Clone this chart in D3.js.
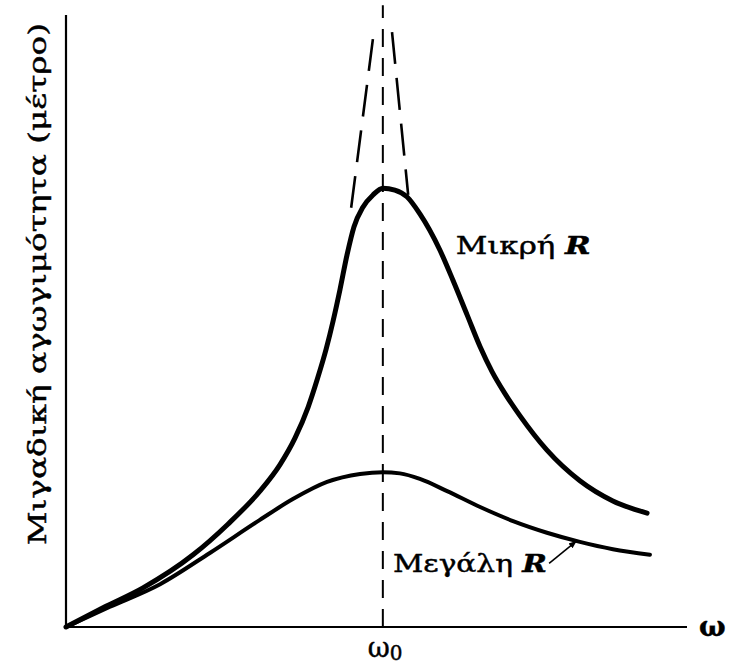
<!DOCTYPE html>
<html>
<head>
<meta charset="utf-8">
<script src="https://cdn.jsdelivr.net/npm/d3@7"></script>
<style>
  body { margin: 0; background: #fff; }
  text { fill: #000; stroke: #000; stroke-width: 0.45px; }
</style>
</head>
<body>
<svg id="chart"></svg>
<script>
// curve readings: [omega / omega0, amplitude] (amplitude 0..1 of the y axis)
const smallR = [
  [0, 0], [0.123, 0.033], [0.243, 0.064], [0.401, 0.118], [0.511, 0.168],
  [0.612, 0.222], [0.675, 0.265], [0.723, 0.309], [0.764, 0.359], [0.795, 0.408],
  [0.821, 0.454], [0.843, 0.500], [0.865, 0.552], [0.887, 0.608], [0.909, 0.654],
  [0.937, 0.686], [0.969, 0.706], [1.0, 0.717], [1.038, 0.714], [1.076, 0.703],
  [1.117, 0.675], [1.180, 0.616], [1.221, 0.567], [1.266, 0.510], [1.307, 0.458],
  [1.345, 0.417], [1.386, 0.381], [1.433, 0.345], [1.518, 0.289], [1.622, 0.239],
  [1.726, 0.206], [1.834, 0.186]
];
const largeR = [
  [0, 0], [0.139, 0.033], [0.297, 0.070], [0.454, 0.121], [0.612, 0.175],
  [0.716, 0.209], [0.824, 0.237], [0.928, 0.250], [1.0, 0.253], [1.054, 0.251],
  [1.117, 0.242], [1.203, 0.222], [1.307, 0.196], [1.411, 0.173], [1.518, 0.154],
  [1.622, 0.139], [1.726, 0.127], [1.843, 0.118]
];
// R -> 0 limit, drawn dashed either side of the peak
const zeroRLeft = [[0.900, 0.685], [0.969, 0.962]];
const zeroRRight = [[1.029, 0.972], [1.080, 0.706]];

const omega0 = 1;
const xLabel = "ω";
const xTickLabel = "ω";
const yLabel = "Μιγαδική αγωγιμότητα (μέτρο)";
const smallRLabel = "Μικρή ";
const largeRLabel = "Μεγάλη ";

const width = 730, height = 666;
const margin = { top: 15, right: 43, bottom: 39, left: 66 };

const svg = d3.select("#chart")
  .attr("width", width)
  .attr("height", height);

const x = d3.scaleLinear()
  .domain([0, 1.96])
  .range([margin.left, width - margin.right]);

const y = d3.scaleLinear()
  .domain([0, 1])
  .range([height - margin.bottom, margin.top]);

const line = d3.line()
  .x(d => x(d[0]))
  .y(d => y(d[1]))
  .curve(d3.curveMonotoneX);

// axes (plain lines, no ticks)
svg.append("line")
  .attr("x1", x(0)).attr("x2", x(0))
  .attr("y1", y(0) + 1).attr("y2", y(1))
  .attr("stroke", "#000").attr("stroke-width", 2.2);

svg.append("line")
  .attr("x1", x(0) - 1).attr("x2", x(1.96))
  .attr("y1", y(0)).attr("y2", y(0))
  .attr("stroke", "#000").attr("stroke-width", 2.2);

// resonance line at omega0
svg.append("line")
  .attr("x1", x(omega0)).attr("x2", x(omega0))
  .attr("y1", y(0)).attr("y2", y(1.016))
  .attr("stroke", "#000").attr("stroke-width", 2)
  .attr("stroke-dasharray", "18,11");

// R -> 0 dashed flanks
[zeroRLeft, zeroRRight].forEach(function(d) {
  svg.append("path")
    .datum(d)
    .attr("d", line)
    .attr("fill", "none")
    .attr("stroke", "#000")
    .attr("stroke-width", 2.6)
    .attr("stroke-dasharray", "32,14");
});

svg.append("path")
  .datum(smallR)
  .attr("d", line)
  .attr("fill", "none")
  .attr("stroke", "#000")
  .attr("stroke-width", 5)
  .attr("stroke-linecap", "round")
  .attr("stroke-linejoin", "round");

svg.append("path")
  .datum(largeR)
  .attr("d", line)
  .attr("fill", "none")
  .attr("stroke", "#000")
  .attr("stroke-width", 4)
  .attr("stroke-linecap", "round")
  .attr("stroke-linejoin", "round");

const serif = "'DejaVu Serif', 'Liberation Serif', serif";

// curve labels
const t1 = svg.append("text")
  .attr("x", x(1.23))
  .attr("y", y(0.609))
  .attr("font-family", serif)
  .attr("font-size", 25)
  .attr("textLength", 135)
  .attr("lengthAdjust", "spacingAndGlyphs");
t1.append("tspan").text(smallRLabel);
t1.append("tspan").attr("font-weight", "bold").attr("font-style", "italic").text("R");

const t2 = svg.append("text")
  .attr("x", x(1.032))
  .attr("y", y(0.090))
  .attr("font-family", serif)
  .attr("font-size", 25)
  .attr("textLength", 154)
  .attr("lengthAdjust", "spacingAndGlyphs");
t2.append("tspan").text(largeRLabel);
t2.append("tspan").attr("font-weight", "bold").attr("font-style", "italic").text("R");

// arrow from label to large R curve
svg.append("defs").append("marker")
  .attr("id", "head")
  .attr("viewBox", "0 0 10 10")
  .attr("refX", 9).attr("refY", 5)
  .attr("markerWidth", 5).attr("markerHeight", 5)
  .attr("orient", "auto")
  .append("path")
  .attr("d", "M0,1 L10,5 L0,9 Z")
  .attr("fill", "#000");

const tip = [1.61, 0.140];
svg.append("line")
  .attr("x1", x(tip[0]) - 27).attr("y1", y(tip[1]) + 22)
  .attr("x2", x(tip[0])).attr("y2", y(tip[1]))
  .attr("stroke", "#000").attr("stroke-width", 1.6)
  .attr("marker-end", "url(#head)");

// axis labels
const w0 = svg.append("text")
  .attr("x", x(omega0) - 15)
  .attr("y", y(0) + 30)
  .attr("font-family", serif)
  .attr("font-size", 27);
w0.append("tspan").text(xTickLabel);
w0.append("tspan").attr("font-size", 20).attr("dy", 3).text("0");

svg.append("text")
  .attr("x", x(1.96) + 12)
  .attr("y", y(0) + 9)
  .attr("font-family", serif)
  .attr("font-size", 28)
  .attr("font-weight", "bold")
  .text(xLabel);

svg.append("text")
  .attr("transform", "translate(" + 46 + "," + 284 + ") rotate(-90)")
  .attr("text-anchor", "middle")
  .attr("font-family", serif)
  .attr("font-size", 25)
  .attr("textLength", 522)
  .attr("lengthAdjust", "spacingAndGlyphs")
  .text(yLabel);
</script>
</body>
</html>
